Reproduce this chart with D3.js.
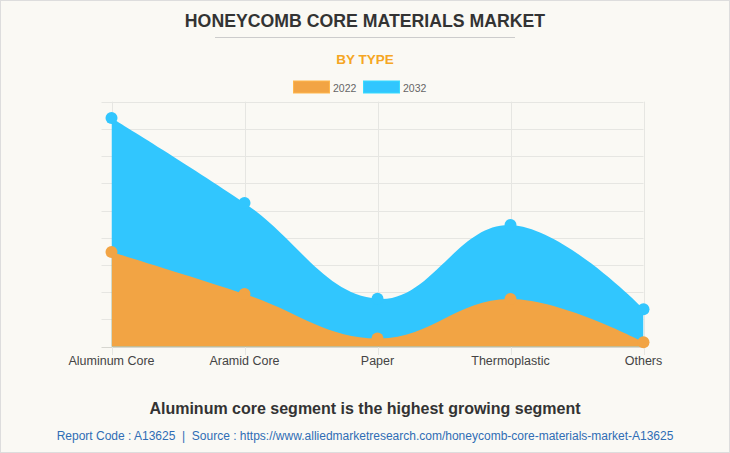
<!DOCTYPE html>
<html>
<head>
<meta charset="utf-8">
<script src="https://cdn.jsdelivr.net/npm/d3@7"></script>
<style>
  html, body { margin: 0; padding: 0; background: #faf9f4; }
  svg { display: block; }
</style>
</head>
<body>
<svg id="chart" width="730" height="453"></svg>
<script>
const categories = ["Aluminum Core", "Aramid Core", "Paper", "Thermoplastic", "Others"];
const seriesNames = ["2022", "2032"];
const values2022 = [3.48, 1.94, 0.30, 1.75, 0.16];
const values2032 = [8.40, 5.28, 1.76, 4.47, 1.38];
const yTicks = [0, 1, 2, 3, 4, 5, 6, 7, 8, 9];
const colors = { "2022": "#f2a444", "2032": "#31c6fe" };

const W = 730, H = 453;
const svg = d3.select("#chart");

// background + border
svg.append("rect").attr("x", 0.5).attr("y", 0.5).attr("width", W - 1).attr("height", H - 1)
  .attr("fill", "#faf9f4").attr("stroke", "#dddddd").attr("stroke-width", 1);

// Title
svg.append("text").attr("x", 365).attr("y", 27.3).attr("text-anchor", "middle")
  .attr("font-family", "Liberation Sans, Arial, sans-serif").attr("font-weight", "bold")
  .attr("font-size", 17.7).attr("fill", "#333333").text("HONEYCOMB CORE MATERIALS MARKET");
svg.append("line").attr("x1", 215).attr("x2", 515).attr("y1", 37.5).attr("y2", 37.5)
  .attr("stroke", "#cccccc").attr("stroke-width", 1);
svg.append("text").attr("x", 365).attr("y", 64).attr("text-anchor", "middle")
  .attr("font-family", "Liberation Sans, Arial, sans-serif").attr("font-weight", "bold")
  .attr("font-size", 13.5).attr("fill", "#f5a623").text("BY TYPE");

// Legend
const legendX = [293, 363];
seriesNames.forEach((s, i) => {
  svg.append("rect").attr("x", legendX[i] + 0.5).attr("y", 81).attr("width", 36).attr("height", 12)
    .attr("fill", colors[s]).attr("stroke", d3.color(colors[s]).brighter(0.3)).attr("stroke-width", 1);
  svg.append("text").attr("x", legendX[i] + 40).attr("y", 91.5)
    .attr("font-family", "Liberation Sans, Arial, sans-serif").attr("font-size", 10.5)
    .attr("fill", "#666666").text(s);
});

// Scales
const x = d3.scalePoint().domain(categories).range([111.5, 643.5]).padding(0);
const y = d3.scaleLinear().domain([0, 9]).range([346.7, 101.7]);

const g = svg.append("g");

// horizontal gridlines (with tick marks to the left)
g.selectAll("line.h").data(yTicks).join("line").attr("class", "h")
  .attr("x1", 101.5).attr("x2", 643.5)
  .attr("y1", d => Math.round(y(d)) + 0.5).attr("y2", d => Math.round(y(d)) + 0.5)
  .attr("stroke", d => d === 0 ? "#d6d6d0" : "#e6e6e2").attr("stroke-width", 1);
// vertical gridlines (with tick marks below)
g.selectAll("line.v").data(categories).join("line").attr("class", "v")
  .attr("x1", d => Math.round(x(d)) + 0.5).attr("x2", d => Math.round(x(d)) + 0.5)
  .attr("y1", 101.7).attr("y2", 355)
  .attr("stroke", "#e6e6e2").attr("stroke-width", 1);

const curve = d3.curveCardinal.tension(-0.2);
const area = d3.area().x((d, i) => x(categories[i])).y0(y(0)).y1(d => y(d)).curve(curve);

svg.append("clipPath").attr("id", "plotclip").append("rect")
  .attr("x", x(categories[0])).attr("y", 90).attr("width", x(categories[4]) - x(categories[0])).attr("height", y(0) - 90);

const series = [{ name: "2032", vals: values2032 }, { name: "2022", vals: values2022 }];
series.forEach(s => {
  g.append("path").datum(s.vals).attr("d", area).attr("fill", colors[s.name])
    .attr("clip-path", "url(#plotclip)");
});
series.forEach(s => {
  g.selectAll(null).data(s.vals).join("circle")
    .attr("cx", (d, i) => x(categories[i])).attr("cy", d => y(d)).attr("r", 6)
    .attr("fill", colors[s.name]);
});

// x labels
g.selectAll("text.xl").data(categories).join("text").attr("class", "xl")
  .attr("x", d => x(d)).attr("y", 364.5).attr("text-anchor", "middle")
  .attr("font-family", "Liberation Sans, Arial, sans-serif").attr("font-size", 12.5)
  .attr("fill", "#444444").text(d => d);

// Subtitle & footer
svg.append("text").attr("x", 365).attr("y", 413.5).attr("text-anchor", "middle")
  .attr("font-family", "Liberation Sans, Arial, sans-serif").attr("font-weight", "bold")
  .attr("font-size", 16).attr("fill", "#333333").text("Aluminum core segment is the highest growing segment");
svg.append("text").attr("x", 365).attr("y", 439.5).attr("text-anchor", "middle")
  .attr("font-family", "Liberation Sans, Arial, sans-serif").attr("font-size", 12)
  .attr("fill", "#2f6db5")
  .attr("xml:space", "preserve")
  .text("Report Code : A13625  |  Source : https://www.alliedmarketresearch.com/honeycomb-core-materials-market-A13625");
</script>
</body>
</html>
